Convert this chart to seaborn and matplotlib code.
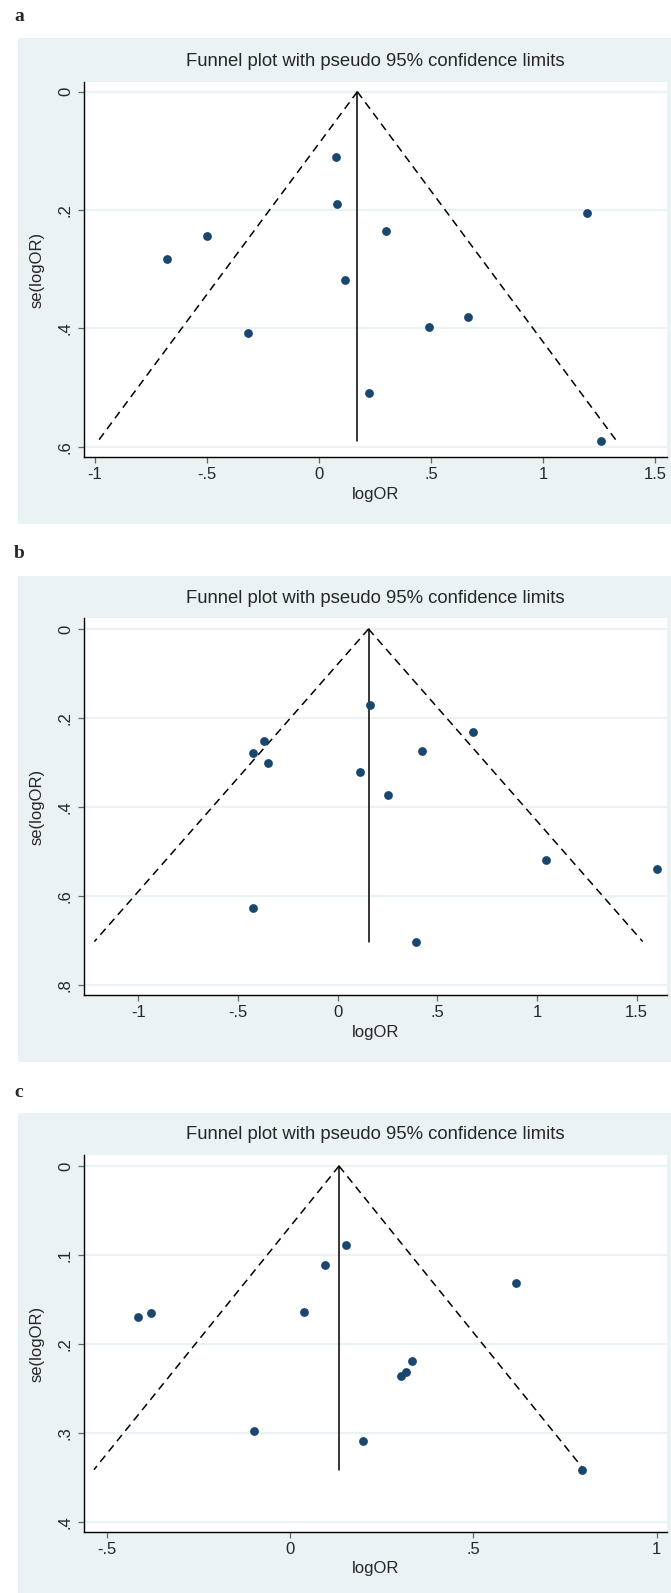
import numpy as np
import pandas as pd
import matplotlib
matplotlib.use("Agg")
import matplotlib.pyplot as plt
from matplotlib.patches import Rectangle
import seaborn as sns

# ---------------- data ----------------
title_text = "Funnel plot with pseudo 95% confidence limits"
panel_letters = ["a", "b", "c"]

a_logor = [0.077, 0.078, 1.195, 0.297, -0.499, -0.680, 0.117, 0.666, 0.489, -0.318, 0.223, 1.257]
a_se = [0.111, 0.190, 0.205, 0.235, 0.244, 0.283, 0.318, 0.381, 0.397, 0.407, 0.509, 0.591]
a_pooled = 0.171

b_logor = [0.163, 0.677, -0.371, 0.422, -0.426, -0.351, 0.110, 0.255, 1.046, 1.605, -0.426, 0.394]
b_se = [0.171, 0.232, 0.251, 0.274, 0.279, 0.301, 0.321, 0.373, 0.519, 0.540, 0.627, 0.702]
b_pooled = 0.155

c_logor = [0.153, 0.095, 0.618, -0.379, -0.415, 0.039, 0.332, 0.317, 0.304, -0.099, 0.200, 0.797]
c_se = [0.089, 0.111, 0.131, 0.165, 0.169, 0.164, 0.2195, 0.2315, 0.236, 0.298, 0.309, 0.341]
c_pooled = 0.134

a_xticks = [-1, -0.5, 0, 0.5, 1, 1.5]
a_xticklabels = ["-1", "-.5", "0", ".5", "1", "1.5"]
a_yticks = [0, 0.2, 0.4, 0.6]
a_yticklabels = ["0", ".2", ".4", ".6"]

b_xticks = [-1, -0.5, 0, 0.5, 1, 1.5]
b_xticklabels = ["-1", "-.5", "0", ".5", "1", "1.5"]
b_yticks = [0, 0.2, 0.4, 0.6, 0.8]
b_yticklabels = ["0", ".2", ".4", ".6", ".8"]

c_xticks = [-0.5, 0, 0.5, 1]
c_xticklabels = ["-.5", "0", ".5", "1"]
c_yticks = [0, 0.1, 0.2, 0.3, 0.4]
c_yticklabels = ["0", ".1", ".2", ".3", ".4"]

x_label = "logOR"
y_label = "se(logOR)"

# ---------------- style ----------------
sns.set_style("white")
plt.rcParams["font.family"] = ["Liberation Sans", "DejaVu Sans"]

W, H = 671, 1593
DPI = 100
fig = plt.figure(figsize=(W / DPI, H / DPI), dpi=DPI)
fig.patch.set_facecolor("white")

BG = "#EAF2F3"
GRID = "#EAF2F3"
NAVY = "#1a476f"

panels = [
    dict(letter=panel_letters[0], x=a_logor, se=a_se, pooled=a_pooled,
         xt=a_xticks, xtl=a_xticklabels, yt=a_yticks, ytl=a_yticklabels,
         bg=(18, 38, 671, 524), plot=(84, 82, 667, 457), lab=(14, 21), title_y=70,
         xlim=(-1.049, 1.553), ylim=(0.6174, -0.0164), xlab_y=495),
    dict(letter=panel_letters[1], x=b_logor, se=b_se, pooled=b_pooled,
         xt=b_xticks, xtl=b_xticklabels, yt=b_yticks, ytl=b_yticklabels,
         bg=(18, 576, 671, 1062), plot=(84, 618, 667, 995), lab=(14, 558), title_y=607,
         xlim=(-1.273, 1.653), ylim=(0.822, -0.0247), xlab_y=1033),
    dict(letter=panel_letters[2], x=c_logor, se=c_se, pooled=c_pooled,
         xt=c_xticks, xtl=c_xticklabels, yt=c_yticks, ytl=c_yticklabels,
         bg=(18, 1113, 671, 1593), plot=(84, 1155, 667, 1532), lab=(14, 1097), title_y=1143,
         xlim=(-0.5615, 1.0286), ylim=(0.411, -0.0124), xlab_y=1568),
]

for p in panels:
    x0, y0, x1, y1 = p["bg"]
    fig.patches.append(Rectangle((x0 / W, 1 - y1 / H), (x1 - x0) / W, (y1 - y0) / H,
                                 transform=fig.transFigure, facecolor=BG,
                                 edgecolor="none", zorder=0))
    fig.text(p["lab"][0] / W, 1 - p["lab"][1] / H, p["letter"],
             family=["Liberation Serif", "DejaVu Serif"], fontweight="bold",
             fontsize=14, ha="left", va="baseline")

    px0, py0, px1, py1 = p["plot"]
    ax = fig.add_axes([px0 / W, 1 - py1 / H, (px1 - px0) / W, (py1 - py0) / H])
    ax.set_facecolor("white")
    ax.set_zorder(1)

    df = pd.DataFrame({"logOR": p["x"], "se": p["se"]})
    se_max = max(p["se"])
    theta = p["pooled"]
    se_line = np.array([0.0, se_max])

    # funnel limits
    ax.plot(theta - 1.96 * se_line, se_line, color="black", lw=1.1,
            linestyle=(0, (5.2, 3.5)), zorder=2)
    ax.plot(theta + 1.96 * se_line, se_line, color="black", lw=1.1,
            linestyle=(0, (5.2, 3.5)), zorder=2)
    ax.plot([theta, theta], [0, se_max], color="black", lw=1.1, zorder=2)

    sns.scatterplot(data=df, x="logOR", y="se", ax=ax, color=NAVY, s=40,
                    edgecolor=NAVY, linewidth=0, zorder=3)

    ax.set_xlim(*p["xlim"])
    ax.set_ylim(*p["ylim"])
    ax.set_xticks(p["xt"])
    ax.set_xticklabels(p["xtl"])
    ax.set_yticks(p["yt"])
    ax.set_yticklabels(p["ytl"], rotation=90, va="center")
    ax.grid(axis="y", color=GRID, lw=1.6)
    ax.grid(axis="x", visible=False)
    ax.set_axisbelow(True)

    for s in ["top", "right"]:
        ax.spines[s].set_visible(False)
    for s in ["left", "bottom"]:
        ax.spines[s].set_color("black")
        ax.spines[s].set_linewidth(1.0)

    ax.tick_params(axis="both", which="major", direction="out", length=4.5,
                   width=0.9, color="#666666", labelsize=12, left=True, bottom=True)
    ax.tick_params(axis="x", pad=3)
    ax.tick_params(axis="y", pad=3.5)

    ax.set_xlabel(x_label, fontsize=12)
    ax.set_ylabel(y_label, fontsize=12)
    hh = py1 - py0
    ww = px1 - px0
    ax.xaxis.set_label_coords(0.5, -(p["xlab_y"] - py1) / hh)
    ax.xaxis.label.set_va("center")
    ax.yaxis.set_label_coords(-(px0 - 37.5) / ww, 0.5)
    ax.yaxis.label.set_va("center")

    ax.set_title(title_text, fontsize=13.3, y=1 + (py0 - p["title_y"]) / hh, va="center")

fig.savefig("out.png", dpi=DPI)
